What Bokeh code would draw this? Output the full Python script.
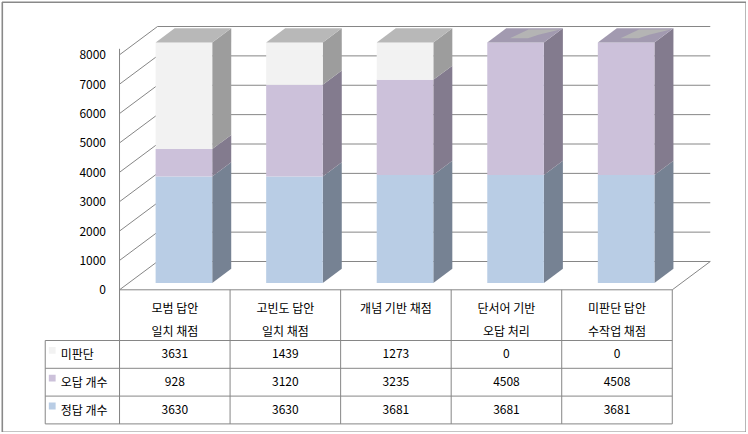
from bokeh.plotting import figure
from bokeh.models import Range1d
from bokeh.core.properties import value
from bokeh.embed import file_html
from bokeh.resources import INLINE

# ---------------- data ----------------
categories = ["모범 답안\n일치 채점", "고빈도 답안\n일치 채점", "개념 기반 채점",
              "단서어 기반\n오답 처리", "미판단 답안\n수작업 채점"]
correct = [3630, 3630, 3681, 3681, 3681]      # 정답 개수
wrong = [928, 3120, 3235, 4508, 4508]         # 오답 개수
undecided = [3631, 1439, 1273, 0, 0]          # 미판단
series_names = ["미판단", "오답 개수", "정답 개수"]   # table order (top to bottom)
y_ticks = [0, 1000, 2000, 3000, 4000, 5000, 6000, 7000, 8000]

# ---------------- style / layout ----------------
FONT = value("Noto Sans CJK KR")
FS = "12px"
GRID = "#868686"
front_cols = {"정답 개수": "#B9CDE5", "오답 개수": "#CCC1DA", "미판단": "#F2F2F2"}
side_cols = {"정답 개수": "#768293", "오답 개수": "#837B8E", "미판단": "#9D9D9D"}
top_cols = {"정답 개수": "#94A4B7", "오답 개수": "#A29AB0", "미판단": "#B8B8B8"}

W, H = 746, 432
SCR_LEFT, SCR_TOP = 0, 0
CAT_PX = 110.55
VAL_PX = 235.0 / 8000.0
ORIGIN_X = 174.3
ORIGIN_Y = 289.3
DEPTH_X, DEPTH_Y = 38.0, 28.3
BAR_HALF = 0.256
BAR_FRONT, BAR_BACK = 0.24, 0.74
BORDER = (1.8, 745.7, 1.8, 431.7)   # chart-area border, page pixels (l, r, t, b)


def px_x(px):
    return px / CAT_PX


def px_y(px):
    return px / VAL_PX


def scr_x(sx):
    return (sx - ORIGIN_X) / CAT_PX


def scr_y(sy):
    return (ORIGIN_Y - sy) / VAL_PX


DX = px_x(DEPTH_X)
DY = px_y(DEPTH_Y)
n = len(categories)
LEFT = -0.5
RIGHT = n - 0.5

p = figure(width=W, height=H, output_backend="svg", toolbar_location=None,
           x_range=Range1d(scr_x(SCR_LEFT), scr_x(SCR_LEFT + W)),
           y_range=Range1d(scr_y(SCR_TOP + H), scr_y(SCR_TOP)),
           min_border=0, x_axis_type=None, y_axis_type=None)
p.outline_line_color = None
p.background_fill_color = "white"
p.border_fill_color = "white"

# chart-area border
p.quad(left=[scr_x(BORDER[0])], right=[scr_x(BORDER[1])],
       top=[scr_y(BORDER[2])], bottom=[scr_y(BORDER[3])],
       fill_color=None, line_color="#898989", line_width=1.6)

# ---------------- walls and floor ----------------
top_v = y_ticks[-1]
p.multi_line(xs=[[LEFT + DX, RIGHT + DX] for v in y_ticks],
             ys=[[v + DY, v + DY] for v in y_ticks], line_color=GRID, line_width=1)
p.multi_line(xs=[[LEFT, LEFT + DX] for v in y_ticks],
             ys=[[v, v + DY] for v in y_ticks], line_color=GRID, line_width=1)
p.line(x=[RIGHT, RIGHT + DX], y=[0, DY], line_color=GRID, line_width=1)

# ---------------- bars ----------------
stack = [("정답 개수", correct), ("오답 개수", wrong), ("미판단", undecided)]
fxs, fys, fcs = [], [], []
sxs, sys_, scs = [], [], []
txs, tys, tcs = [], [], []
axs, ays = [], []
d_front_x, d_front_y = BAR_FRONT * DX, BAR_FRONT * DY
d_x, d_y = (BAR_BACK - BAR_FRONT) * DX, (BAR_BACK - BAR_FRONT) * DY
for i in range(n):
    base = 0
    x0 = i - BAR_HALF + d_front_x
    x1 = i + BAR_HALF + d_front_x
    last = None
    for name, vals in stack:
        h = vals[i]
        if h == 0:
            continue
        y0 = base + d_front_y
        y1 = base + h + d_front_y
        sxs.append([x1, x1 + d_x, x1 + d_x, x1])
        sys_.append([y0, y0 + d_y, y1 + d_y, y1])
        scs.append(side_cols[name])
        fxs.append([x0, x1, x1, x0])
        fys.append([y0, y0, y1, y1])
        fcs.append(front_cols[name])
        base += h
        last = name
    yt = base + d_front_y
    txs.append([x0, x1, x1 + d_x, x0 + d_x])
    tys.append([yt, yt, yt + d_y, yt + d_y])
    tcs.append(top_cols[last])
    if undecided[i] == 0:
        def pt(u, t):
            return x0 + u * (x1 - x0) + t * d_x, yt + t * d_y
        pts = [pt(0.30, 0.30), pt(0.62, 0.30), pt(0.72, 0.55), pt(0.98, 0.92),
               pt(0.42, 0.92), pt(0.30, 0.30)]
        axs.append([q[0] for q in pts])
        ays.append([q[1] for q in pts])

p.patches(xs=sxs, ys=sys_, fill_color=scs, line_color=None)
p.patches(xs=fxs, ys=fys, fill_color=fcs, line_color=None)
p.patches(xs=txs, ys=tys, fill_color=tcs, line_color=None)
if axs:
    p.patches(xs=axs, ys=ays, fill_color="#B4B4B4", line_color=None)

# ---------------- y axis ----------------
p.line(x=[LEFT, LEFT], y=[-px_y(134.0), top_v + px_y(6)], line_color=GRID, line_width=1)
p.text(x=[LEFT - px_x(13.5)] * len(y_ticks), y=y_ticks, text=[str(v) for v in y_ticks],
       text_align="right", text_baseline="middle", text_font=FONT, text_font_size=FS,
       text_color="#000000")

# ---------------- data table ----------------
HEADER_H = 50.7
ROW_H = 27.8
TABLE_BOTTOM = HEADER_H + ROW_H * len(series_names)
LEG_LEFT = LEFT - px_x(74.3)

hx, hy = [[LEFT, RIGHT]], [[0, 0]]
for r in range(len(series_names) + 1):
    yy = -px_y(HEADER_H + ROW_H * r)
    hx.append([LEG_LEFT, RIGHT])
    hy.append([yy, yy])
for k in range(n + 1):
    hx.append([LEFT + k, LEFT + k])
    hy.append([0, -px_y(TABLE_BOTTOM)])
hx.append([LEG_LEFT, LEG_LEFT])
hy.append([-px_y(HEADER_H), -px_y(TABLE_BOTTOM)])
p.multi_line(xs=hx, ys=hy, line_color=GRID, line_width=1)

htx, hty, htt = [], [], []
for i, c in enumerate(categories):
    for j, line in enumerate(c.split("\n")):
        htx.append(i)
        hty.append(-px_y(17.4 + 23.0 * j))
        htt.append(line)
p.text(x=htx, y=hty, text=htt, text_align="center", text_baseline="middle",
       text_font=FONT, text_font_size=FS, text_color="#000000")

series_vals = {"미판단": undecided, "오답 개수": wrong, "정답 개수": correct}
vx, vy, vt = [], [], []
for r, name in enumerate(series_names):
    yc = -px_y(HEADER_H + ROW_H * r + 13.2)
    for i in range(n):
        vx.append(i)
        vy.append(yc)
        vt.append(str(series_vals[name][i]))
p.text(x=vx, y=vy, text=vt, text_align="center", text_baseline="middle",
       text_font=FONT, text_font_size=FS, text_color="#000000")

lx0 = [LEG_LEFT + px_x(3.6)] * len(series_names)
lx1 = [LEG_LEFT + px_x(10.4)] * len(series_names)
ly_top = [-px_y(HEADER_H + ROW_H * r + 6.5) for r in range(len(series_names))]
ly_bot = [-px_y(HEADER_H + ROW_H * r + 13.3) for r in range(len(series_names))]
p.quad(left=lx0, right=lx1, top=ly_top, bottom=ly_bot,
       fill_color=[front_cols[s] for s in series_names], line_color=None)
p.text(x=[LEG_LEFT + px_x(15.5)] * len(series_names),
       y=[-px_y(HEADER_H + ROW_H * r + 13.2) for r in range(len(series_names))],
       text=series_names, text_align="left", text_baseline="middle",
       text_font=FONT, text_font_size=FS, text_color="#000000")

open("out.html", "w").write(file_html(p, INLINE))
